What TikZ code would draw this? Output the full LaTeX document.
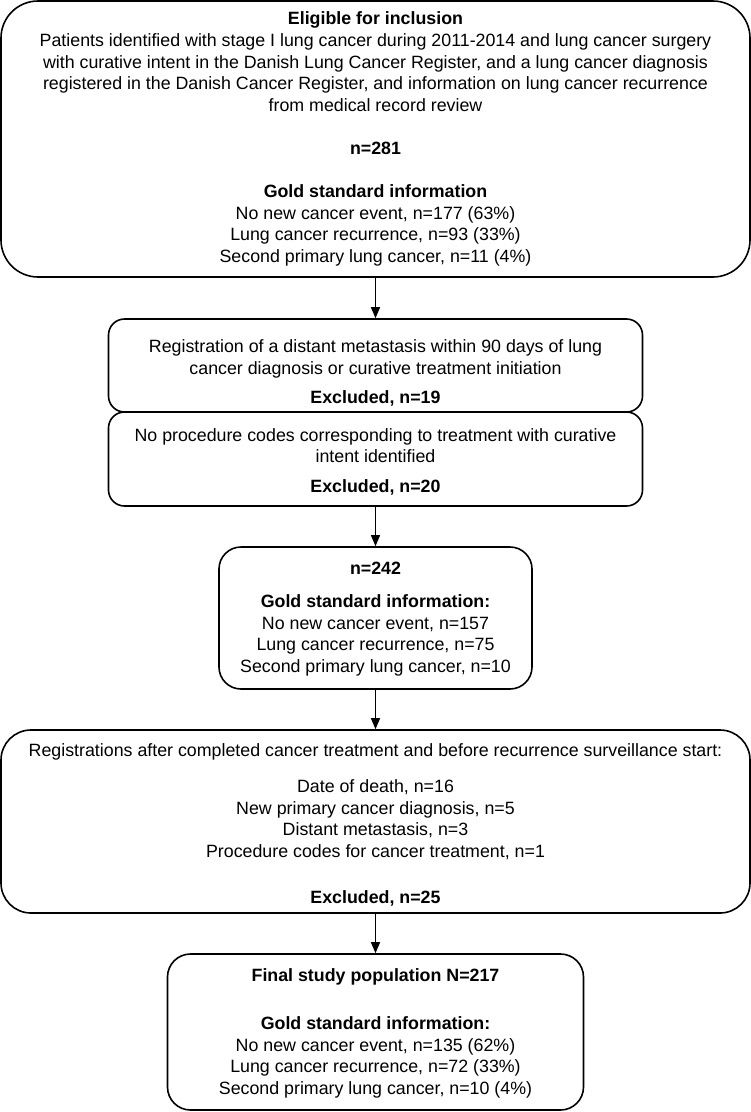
\documentclass[tikz,border=0pt]{standalone}
\usepackage{fontspec}
\setmainfont{Liberation Sans}
\usetikzlibrary{arrows.meta}
\begin{document}
\begin{tikzpicture}[x=1pt,y=-1pt,
  box/.style={draw=black, line width=1.6pt, inner sep=0pt, fill=white},
  txt/.style={inner sep=0pt, align=center, font=\fontsize{17.8}{21.6}\selectfont},
  arr/.style={line width=1.3pt, -{Triangle[length=11pt,width=9pt]}}]
\useasboundingbox (0,0) rectangle (751,1112);
% boxes
\node[box, rounded corners=37pt, minimum width=749pt, minimum height=276pt] (b1) at (375.5,139) {};
\node[box, rounded corners=16pt, minimum width=534pt, minimum height=93pt] (b2) at (375.5,365.5) {};
\node[box, rounded corners=16pt, minimum width=534pt, minimum height=94pt] (b3) at (375.5,459) {};
\node[box, rounded corners=22pt, minimum width=313pt, minimum height=142pt] (b4) at (375.5,618) {};
\node[box, rounded corners=30pt, minimum width=749pt, minimum height=183pt] (b5) at (375.5,821.5) {};
\node[box, rounded corners=23pt, minimum width=416pt, minimum height=156pt] (b6) at (375.5,1032) {};
% texts
\node[txt] (t1) at (375.5,139.3) {\strut\textbf{Eligible for inclusion}\\
Patients identified with stage I lung cancer during 2011-2014 and lung cancer surgery\\
with curative intent in the Danish Lung Cancer Register, and a lung cancer diagnosis\\
registered in the Danish Cancer Register, and information on lung cancer recurrence\\
from medical record review\\[21.6pt]
\textbf{n=281}\\[21.6pt]
\textbf{Gold standard information}\\
No new cancer event, n=177 (63\%)\\
Lung cancer recurrence, n=93 (33\%)\\
Second primary lung cancer, n=11 (4\%)\strut};
\node[txt] (t2) at (375.5,373.75) {\strut Registration of a distant metastasis within 90 days of lung\\
cancer diagnosis or curative treatment initiation\\[7pt]
\textbf{Excluded, n=19}\strut};
\node[txt] (t3) at (375.5,462.5) {\strut No procedure codes corresponding to treatment with curative\\
intent identified\\[8.4pt]
\textbf{Excluded, n=20}\strut};
\node[txt] (t4) at (375.5,619) {\strut\textbf{n=242}\\[11.4pt]
\textbf{Gold standard information:}\\
No new cancer event, n=157\\
Lung cancer recurrence, n=75\\
Second primary lung cancer, n=10\strut};
\node[txt] (t5) at (375.5,825.5) {\strut Registrations after completed cancer treatment and before recurrence surveillance start:\\[14.4pt]
Date of death, n=16\\
New primary cancer diagnosis, n=5\\
Distant metastasis, n=3\\
Procedure codes for cancer treatment, n=1\\[24.4pt]
\textbf{Excluded, n=25}\strut};
\node[txt] (t6) at (375.5,1033.5) {\strut\textbf{Final study population N=217}\\[26.4pt]
\textbf{Gold standard information:}\\
No new cancer event, n=135 (62\%)\\
Lung cancer recurrence, n=72 (33\%)\\
Second primary lung cancer, n=10 (4\%)\strut};
% connectors
\draw[arr] (b1) -- (b2);
\draw[arr] (b3) -- (b4);
\draw[arr] (b4) -- (b5);
\draw[arr] (b5) -- (b6);
\end{tikzpicture}
\end{document}
